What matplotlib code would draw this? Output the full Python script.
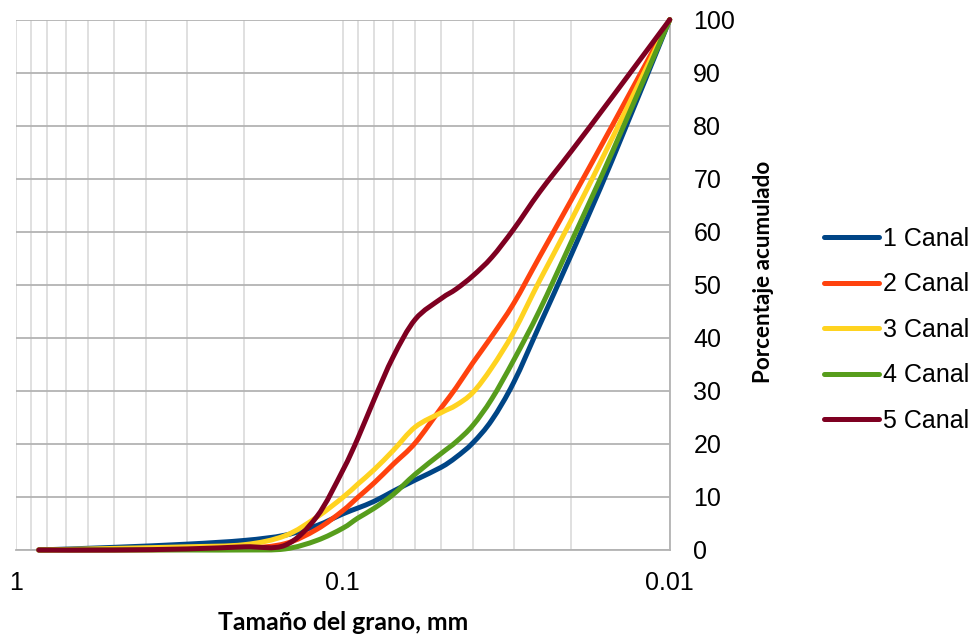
import matplotlib
matplotlib.use("Agg")
import numpy as np
from matplotlib import pyplot as plt
from matplotlib.path import Path
from matplotlib.patches import PathPatch
from matplotlib.lines import Line2D
from matplotlib.ticker import FixedLocator, LogLocator, NullFormatter

# tamaño del grano (mm) y porcentaje acumulado
tamano = [0.85, 0.5, 0.3, 0.2, 0.15, 0.12, 0.1, 0.09, 0.08, 0.07, 0.06,
          0.05, 0.045, 0.04, 0.035, 0.03, 0.025, 0.02, 0.015, 0.01]

canal_1 = [0, 0.5, 1.1, 1.8, 2.8, 4.6, 6.8, 7.9, 9.2, 11.1, 13.2,
           15.6, 17.5, 20.2, 24.5, 31.6, 42.4, 55.7, 73.5, 100]
canal_2 = [0, 0, 0.1, 0.3, 1.2, 3.9, 7.4, 9.9, 12.7, 16.2, 20.2,
           26.8, 30.6, 35.3, 40.3, 46.5, 55.3, 66.0, 80.0, 100]
canal_3 = [0, 0.3, 0.6, 1.0, 2.7, 6.2, 9.9, 12.4, 15.2, 18.8, 23.2,
           25.9, 27.3, 29.7, 34.4, 41.1, 50.8, 62.2, 77.6, 100]
canal_4 = [0, 0, 0, 0, 0.2, 1.8, 4.1, 6.0, 7.9, 10.5, 14.3,
           18.2, 20.4, 23.5, 28.5, 35.8, 45.2, 58.1, 75.0, 100]
canal_5 = [0, 0, 0.2, 0.6, 0.9, 6.3, 15.0, 21.0, 28.5, 36.5, 43.5,
           47.4, 49.2, 51.7, 55.2, 60.5, 67.5, 75.2, 85.4, 100]

series = [canal_1, canal_2, canal_3, canal_4, canal_5]
nombres = ["1 Canal", "2 Canal", "3 Canal", "4 Canal", "5 Canal"]
colores = ["#004586", "#ff420e", "#ffd320", "#579d1c", "#7e0021"]


def linea_suave(xs, ys):
    # linea suavizada (bezier tipo hoja de calculo) que pasa por los puntos
    pts = np.column_stack([np.log10(xs), ys])
    n = len(pts)
    verts = [pts[0]]
    codes = [Path.MOVETO]
    for i in range(n - 1):
        p0 = pts[max(i - 1, 0)]
        p1 = pts[i]
        p2 = pts[i + 1]
        p3 = pts[min(i + 2, n - 1)]
        verts += [p1 + (p2 - p0) / 6, p2 - (p3 - p1) / 6, p2]
        codes += [Path.CURVE4] * 3
    verts = np.array(verts)
    verts[:, 0] = 10 ** verts[:, 0]
    return Path(verts, codes)


fig = plt.figure(figsize=(9.77, 6.39), dpi=100)
ax = fig.add_axes([0.0161, 0.1393, 0.6694, 0.8299])

for vals, color in zip(series, colores):
    ax.add_patch(PathPatch(linea_suave(tamano, vals), fill=False, edgecolor=color,
                           lw=3.6, joinstyle="round", capstyle="round",
                           zorder=3, clip_on=False))

ax.set_xscale("log")
ax.set_xlim(1, 0.01)
ax.set_ylim(0, 100)

ax.xaxis.set_major_locator(FixedLocator([1, 0.1, 0.01]))
ax.xaxis.set_minor_locator(LogLocator(base=10, subs=range(2, 10)))
ax.xaxis.set_minor_formatter(NullFormatter())
ax.set_xticklabels(["1", "0.1", "0.01"])
ax.set_yticks(range(0, 101, 10))

ax.yaxis.tick_right()
ax.yaxis.set_label_position("right")

ax.grid(True, which="major", axis="y", color="#b3b3b3", lw=1.3, zorder=0)
ax.grid(True, which="both", axis="x", color="#dddddd", lw=1.3, zorder=0)

for s in ["top", "left"]:
    ax.spines[s].set_visible(False)
for s in ["bottom", "right"]:
    ax.spines[s].set_color("#b3b3b3")
    ax.spines[s].set_linewidth(1.3)

ax.tick_params(axis="both", which="both", length=0)
ax.tick_params(axis="y", pad=17)
ax.tick_params(axis="x", pad=15)
for lab in ax.get_xticklabels() + ax.get_yticklabels():
    lab.set_family("Liberation Sans")
    lab.set_fontsize(18)
    lab.set_color("black")

ax.set_xlabel("Tamaño del grano, mm", family="Lato", fontweight="bold",
              fontsize=17.8, labelpad=12)
ax.set_ylabel("Porcentaje acumulado", family="Lato", fontweight="bold",
              fontsize=16.2)
ax.yaxis.set_label_coords(1.1427, 0.524)
ax.yaxis.label.set_va("center")

handles = [Line2D([], [], color=c, lw=3.6, solid_capstyle="round") for c in colores]
fig.legend(handles, nombres, loc="center left", bbox_to_anchor=(0.820, 0.4836),
           frameon=False, handlelength=2.22, handletextpad=0.14,
           labelspacing=0.86, prop={"family": "Liberation Sans", "size": 18})

fig.savefig("out.png", dpi=100)
